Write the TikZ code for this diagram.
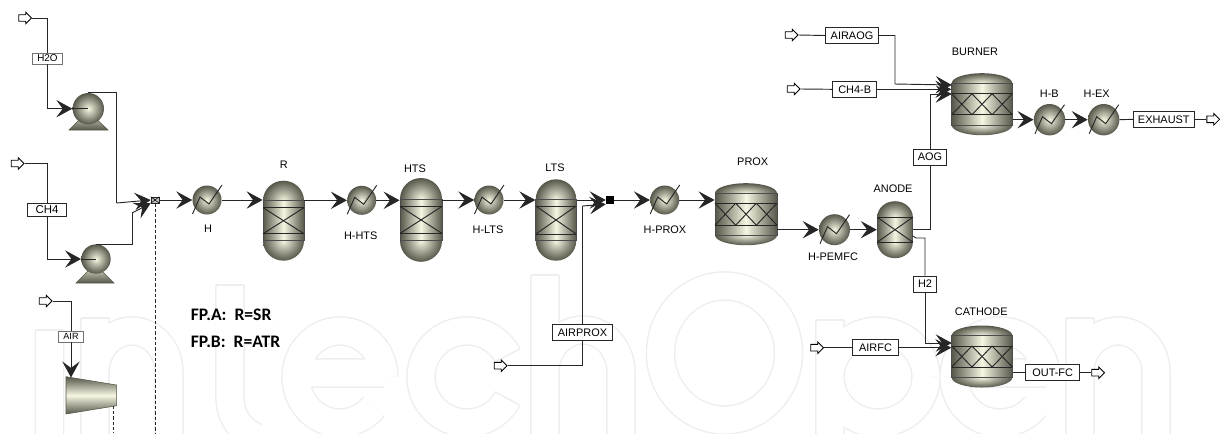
\documentclass[tikz,border=0pt]{standalone}
\usepackage{fontspec}
\setmainfont{Liberation Sans}
\newfontfamily\notefont{Carlito}
\usetikzlibrary{calc, arrows.meta, shapes.arrows}

\definecolor{eqdark}{HTML}{56564A}
\definecolor{eqlight}{HTML}{F6F6E2}
\definecolor{wmgrey}{HTML}{EEEEEE}

\begin{document}
\begin{tikzpicture}[x=0.75pt, y=-0.75pt, >=Stealth, font=\fontsize{8.2}{10}\selectfont]

    % --- Parametres ---
    \def\px{0.75pt}          % one pixel of the reference
    \useasboundingbox (0,0) rectangle (1220,433);

    % --- Styles ---
    \tikzstyle{pipe} = [draw=black!85, line width=0.7pt]
    \tikzstyle{pipeflow} = [pipe, -{Stealth[length=12pt, width=13pt, inset=4.8pt]}]
    \tikzstyle{feed} = [draw=black, fill=white, line width=0.6pt, single arrow, inner sep=2.2pt, minimum width=8pt, minimum height=9.5pt, single arrow head extend=1.8pt]
    \tikzstyle{eqline} = [draw=black!85, line width=0.7pt]
    \tikzstyle{eqcap} = [inner color=eqlight, outer color=eqdark]
    \tikzstyle{eqbody} = [rectangle, inner sep=0pt, draw=black!70, line width=0.6pt, left color=eqdark, right color=eqdark, middle color=eqlight]
    \tikzstyle{eqball} = [circle, inner sep=0pt, inner color=eqlight, outer color=eqdark]
    \tikzstyle{tagbox} = [rectangle, draw=black!85, fill=white, line width=0.6pt, inner sep=0pt, minimum height=12pt]
    \tikzstyle{taggrey} = [rectangle, draw=black!55, fill=white, line width=0.6pt, inner sep=0pt, minimum height=8.2pt, font=\fontsize{7.4}{8}\selectfont]
    \tikzstyle{eqname} = [inner sep=0pt]
    \tikzstyle{note} = [anchor=west, inner sep=0pt, font=\notefont\bfseries\fontsize{13.2}{15}\selectfont]
    \tikzstyle{wmark} = [draw=wmgrey, line width=1.1pt, double=white, double distance=20pt]
    \tikzstyle{wmedge} = [draw=wmgrey, line width=1.1pt]

    % --- Filigrane ---
    \draw[wmark]
        (49.5,440) -- (49.5,330)
        (95,440) -- (95,318)  (95,372) arc (180:270:37 and 41) arc (-90:0:37 and 41) -- (169,440)
        (230,285) -- (230,398) arc (180:110:40 and 42)  (200,330) -- (272,330)
        (384,377) arc (0:-320:44 and 46)  (296,373) -- (384,373)
        (467,377) ++(-28:46) arc (-28:-332:46 and 46)
        (545,440) -- (545,275)  (545,372) arc (180:270:38 and 42) arc (-90:0:38 and 42) -- (621,440)
        (724.5,353) ++(0:64) arc (0:360:64 and 67)
        (830,440) -- (830,320)  (878,377) ++(0:48) arc (0:360:48 and 46)
        (1046,377) arc (0:-320:46 and 46)  (954,373) -- (1046,373)
        (1080,440) -- (1080,318)  (1080,372) arc (180:270:38 and 41) arc (-90:0:38 and 41) -- (1156,440);
    \foreach \x/\y in {49.5/330, 95/318, 230/285, 545/275, 830/320, 1080/318}
        \draw[wmedge] (\x-13.7,\y) -- (\x+13.7,\y);
    \draw[wmedge] (467,377) ++(-28:32.5) -- ++(-28:27.5);
    \draw[wmedge] (467,377) ++(28:32.5) -- ++(28:27.5);

    % --- Reacteurs et bruleur ---
    \foreach \nm/\cx/\cy/\w/\hb/\hi/\ry/\nx in {
        R/283.5/220.7/41/20/13/20/1,
        HTS/421/219.9/42/20.9/13.5/21/1,
        LTS/556/220/40.5/20.7/14/20/1,
        ANODE/895/229.7/35.7/12.5/12.5/16/1,
        PROX/746/214.2/62/21/11/10/3,
        BURNER/982/104.2/60.6/21/10.5/10/3,
        CATHODE/982/356.5/60.6/21/10.5/10/3} {
        \shade[eqcap] (\cx,\cy-\hb) ellipse [x radius=\w/2, y radius=\ry];
        \shade[eqcap] (\cx,\cy+\hb) ellipse [x radius=\w/2, y radius=\ry];
        \node[eqbody, minimum width=\w*\px, minimum height=2*\hb*\px] (\nm) at (\cx,\cy) {};
        \draw[eqline] (\cx-\w/2,\cy-\hi) -- (\cx+\w/2,\cy-\hi);
        \draw[eqline] (\cx-\w/2,\cy+\hi) -- (\cx+\w/2,\cy+\hi);
        \pgfmathsetmacro\bw{\w/\nx}
        \foreach \k in {1,...,\nx} {
            \draw[eqline] (\cx-\w/2+\k*\bw-\bw,\cy-\hi) -- (\cx-\w/2+\k*\bw,\cy+\hi);
            \draw[eqline] (\cx-\w/2+\k*\bw-\bw,\cy+\hi) -- (\cx-\w/2+\k*\bw,\cy-\hi);
        }
    }

    % --- Echangeurs ---
    \foreach \nm/\cx/\cy/\rad in {
        H/207/200/14.5, HHTS/361.7/200.3/14.5, HLTS/489/200/14.5, HPROX/664.7/200/14.5,
        HPEMFC/834.5/229.7/15.5, HB/1049.5/119.7/15.7, HEX/1103.7/119.7/15.7} {
        \node[eqball, minimum size=2*\rad*\px] (\nm) at (\cx,\cy) {};
        \draw[eqline] (\cx-14.5,\cy+14) -- (\cx-7,\cy-3) -- (\cx+2,\cy+4) -- (\cx+15,\cy-15);
    }

    % --- Pompes et compresseur ---
    \shade[draw=eqdark, top color=eqlight, bottom color=eqdark] (69,130) -- (108,130) -- (88,111) -- cycle;
    \shade[draw=eqdark, top color=eqlight, bottom color=eqdark] (76,283) -- (114,283) -- (95,264) -- cycle;
    \node[eqball, minimum size=31.4*\px] (P1) at (88.3,108.7) {};
    \node[eqball, minimum size=29.4*\px] (P2) at (96,259) {};
    \shade[draw=eqdark, top color=eqdark, bottom color=eqdark, middle color=eqlight]
        (66,376.7) -- (116.7,385) -- (116.7,405.7) -- (66,414) -- cycle;
    \coordinate (compIn) at (71,377.5);
    \coordinate (compOut) at (113,405.7);

    % --- Melangeurs ---
    \node[rectangle, draw=black!85, fill=black!25, inner sep=0pt, minimum width=6pt, minimum height=4.5pt] (MIXA) at (155,200) {};
    \draw[line width=0.4pt] (MIXA.north west) -- (MIXA.south east) (MIXA.south west) -- (MIXA.north east);
    \node[rectangle, fill=black, inner sep=0pt, minimum width=6pt, minimum height=6pt] (MIXB) at (610,200) {};

    % --- Fleches d'entree et de sortie ---
    \node[feed] (fH2O) at (23.5,18) {};
    \node[feed] (fCH4) at (16,163.5) {};
    \node[feed] (fAIR) at (44,301) {};
    \node[feed] (fAIRPROX) at (499,365.7) {};
    \node[feed] (fAIRAOG) at (790,35) {};
    \node[feed] (fCH4B) at (792,89) {};
    \node[feed] (fAIRFC) at (815.5,347.7) {};
    \node[feed] (fOUTFC) at (1096.5,372.7) {};
    \node[feed] (fEXHAUST) at (1211.5,119.3) {};

    % --- Courants ---
    \node[taggrey, minimum width=22.5pt] (bH2O) at (47.5,58.5) {H2O};
    \node[tagbox, minimum width=29pt, minimum height=10pt, line width=0.8pt, font=\fontsize{8.6}{10}\selectfont] (bCH4) at (47,210) {CH4};
    \node[taggrey, minimum width=19pt, font=\fontsize{6.8}{8}\selectfont] (bAIR) at (71,336.5) {AIR};
    \node[tagbox, minimum width=45.5pt] (bAIRPROX) at (582.5,332.7) {AIRPROX};
    \node[tagbox, minimum width=40pt] (bAIRAOG) at (852,35.5) {AIRAOG};
    \node[tagbox, minimum width=33pt] (bCH4B) at (854.7,89.3) {CH4-B};
    \node[tagbox, minimum width=25pt] (bAOG) at (930,157) {AOG};
    \node[tagbox, minimum width=17.5pt] (bH2) at (925,284) {H2};
    \node[tagbox, minimum width=34.5pt] (bAIRFC) at (875.5,347.7) {AIRFC};
    \node[tagbox, minimum width=40.5pt] (bOUTFC) at (1052.7,372.7) {OUT-FC};
    \node[tagbox, minimum width=45.5pt] (bEXHAUST) at (1163.8,119.3) {EXHAUST};

    % --- Points de passage ---
    \coordinate (tapA) at (116.5,203);
    \coordinate (tapB) at (132,213);
    \coordinate (tapC) at (582.5,206);
    \coordinate (tapD) at (895,84);
    \coordinate (outH2) at (913,236);
    \coordinate (inB1) at (951.7,85);
    \coordinate (inB3) at (951.7,94);
    \coordinate (inC1) at (951.7,343);
    \coordinate (dashA) at (155,433);
    \coordinate (dashB) at (113,433);

    % --- Entree H2O, CH4, AIR ---
    \draw[pipe] (fH2O.east) -| (bH2O.north);
    \draw[pipeflow] (bH2O.south) |- (P1.west);
    \draw[pipe] (P1.west) -- (P1.center);
    \draw[pipe] (P1.north) -| (tapA);
    \draw[pipeflow] (tapA) -- (MIXA.west);
    \draw[pipe] (fCH4.east) -| (bCH4.north);
    \draw[pipeflow] (bCH4.south) |- (P2.west);
    \draw[pipe] (P2.west) -- (P2.center);
    \draw[pipe] (P2.north) -| (tapB);
    \draw[pipeflow] (tapB) -- (MIXA.south west);
    \draw[pipe] (fAIR.east) -| (bAIR.north);
    \draw[pipeflow] (bAIR.south) -- (compIn);
    \draw[pipe, dashed, dash pattern=on 2.5pt off 1.5pt] (compOut) -- (dashB);
    \draw[pipe, dashed, dash pattern=on 2.5pt off 1.5pt] (MIXA.south) -- (dashA);

    % --- Ligne principale ---
    \draw[pipeflow] (MIXA.east) -- (H.west);
    \draw[pipeflow] (H.east) -- (H.east -| R.west);
    \draw[pipeflow] (R.east |- HHTS.west) -- (HHTS.west);
    \draw[pipeflow] (HHTS.east) -- (HHTS.east -| HTS.west);
    \draw[pipeflow] (HTS.east |- HLTS.west) -- (HLTS.west);
    \draw[pipeflow] (HLTS.east) -- (HLTS.east -| LTS.west);
    \draw[pipeflow] (LTS.east |- MIXB.west) -- (MIXB.west);
    \draw[pipe] (fAIRPROX.east) -| (bAIRPROX.south);
    \draw[pipe] (bAIRPROX.north) -- (tapC);
    \draw[pipeflow] (tapC) -- (MIXB.south west);
    \draw[pipeflow] (MIXB.east) -- (HPROX.west);
    \draw[pipeflow] (HPROX.east) -- (HPROX.east -| PROX.west);
    \draw[pipeflow] (PROX.east |- HPEMFC.west) -- (HPEMFC.west);
    \draw[pipeflow] (HPEMFC.east) -- (HPEMFC.east -| ANODE.west);

    % --- Bruleur ---
    \draw[pipe] (fAIRAOG.east) -- (bAIRAOG.west);
    \draw[pipeflow] (bAIRAOG.east) -| (tapD) -- (inB1);
    \draw[pipe] (fCH4B.east) -- (bCH4B.west);
    \draw[pipeflow] (bCH4B.east) -- (bCH4B.east -| BURNER.west);
    \draw[pipe] (ANODE.east) -| (bAOG.south);
    \draw[pipeflow] (bAOG.north) |- (inB3);
    \draw[pipeflow] (BURNER.east |- HB.west) -- (HB.west);
    \draw[pipeflow] (HB.east) -- (HEX.west);
    \draw[pipe] (HEX.east) -- (bEXHAUST.west);
    \draw[pipe] (bEXHAUST.east) -- (fEXHAUST.west);

    % --- Cathode ---
    \draw[pipe] (outH2) -- ++(3,2) -| (bH2.north);
    \draw[pipeflow] (bH2.south) |- (inC1);
    \draw[pipe] (fAIRFC.east) -- (bAIRFC.west);
    \draw[pipeflow] (bAIRFC.east) -- (bAIRFC.east -| CATHODE.west);
    \draw[pipe] (CATHODE.east |- bOUTFC.west) -- (bOUTFC.west);
    \draw[pipe] (bOUTFC.east) -- (fOUTFC.west);

    % --- Etiquettes ---
    \node[eqname] (labH) at (208,229) {H};
    \node[eqname] (labR) at (283.7,165) {R};
    \node[eqname] (labHHTS) at (360.7,236) {H-HTS};
    \node[eqname] (labHTS) at (415,168.3) {HTS};
    \node[eqname] (labHLTS) at (488,230) {H-LTS};
    \node[eqname] (labLTS) at (555,168) {LTS};
    \node[eqname] (labHPROX) at (665,230) {H-PROX};
    \node[eqname] (labPROX) at (752.7,162) {PROX};
    \node[eqname] (labHPEMFC) at (833,257) {H-PEMFC};
    \node[eqname] (labANODE) at (893,189) {ANODE};
    \node[eqname] (labBURNER) at (975,52) {BURNER};
    \node[eqname] (labHB) at (1049.3,93.3) {H-B};
    \node[eqname] (labHEX) at (1096.7,93.3) {H-EX};
    \node[eqname] (labCATHODE) at (981.3,312) {CATHODE};

    \node[note] (fpA) at (190.5,315) {FP.A:\ \ R=SR};
    \node[note] (fpB) at (190.5,342) {FP.B:\ \ R=ATR};

\end{tikzpicture}
\end{document}
